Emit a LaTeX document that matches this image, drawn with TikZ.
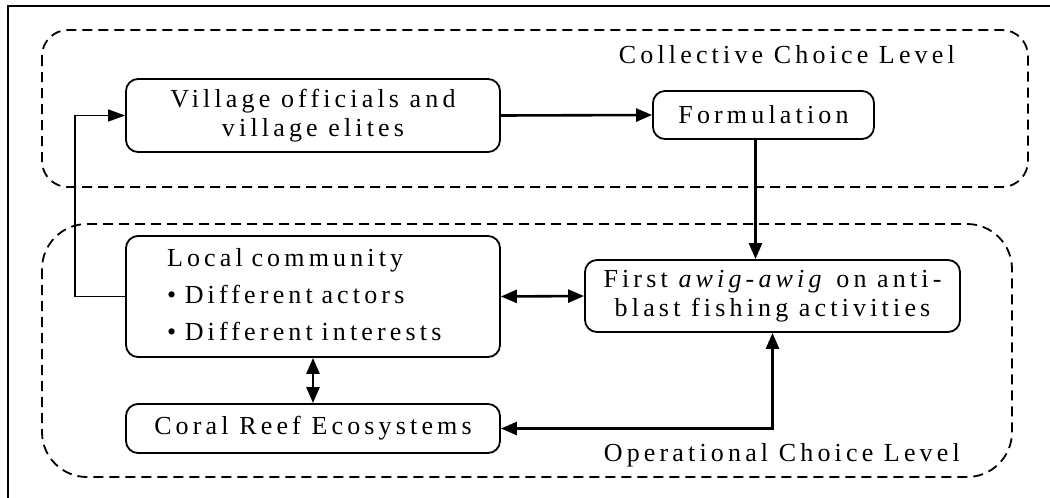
\documentclass[tikz,border=0pt]{standalone}
\usepackage{fontspec}
\setmainfont[LetterSpace=16]{Liberation Serif}
\usetikzlibrary{arrows.meta}

\tikzset{
  box/.style={draw, line width=1.8pt, rounded corners=12pt, align=center,
    inner sep=0pt, font=\fontsize{26}{29}\selectfont},
  level/.style={draw, line width=1.8pt, dash pattern=on 10pt off 6pt},
  lbl/.style={inner sep=0pt, font=\fontsize{26}{29}\selectfont},
  flow/.style={line width=2.6pt, -{Triangle[length=16pt,width=13pt]}},
  both/.style={line width=2.6pt, {Triangle[length=16pt,width=13pt]}-{Triangle[length=16pt,width=13pt]}},
  feed/.style={line width=1.5pt, -{Triangle[length=17pt,width=12pt]}},
}

\begin{document}
\begin{tikzpicture}[x=1pt,y=-1pt]
\useasboundingbox (0,0) rectangle (1050,498);

% page frame (open at right and bottom)
\draw[line width=1.5pt] (8,498) -- (8,6) -- (1050,6);

% the two choice levels
\draw[level, rounded corners=26pt] (42,30) rectangle (1028,187);
\draw[level, rounded corners=45pt] (42,224) rectangle (1012,477);
\node[lbl, anchor=base east] (collective) at (955,63) {Collective Choice Level};
\node[lbl, anchor=base east] (operational) at (960,461) {Operational Choice Level};

% actors and rules
\node[box, minimum width=374pt, minimum height=73pt] (village) at (313,115.5)
  {Village officials and\\village elites};
\node[box, minimum width=221pt, minimum height=48pt] (formulation) at (763.5,115)
  {Formulation};
\node[box, minimum width=375pt, minimum height=72pt] (first) at (772.5,296)
  {First \textit{awig-awig} on anti-\\blast fishing activities};
\node[box, minimum width=374pt, minimum height=121pt, text width=292pt,
  inner xsep=41pt, align=left, font=\fontsize{26}{37}\selectfont] (local) at (313,296.5)
  {\begin{tabular}{@{}l@{}}Local community\\• Different actors\\• Different interests\end{tabular}};
\node[box, minimum width=374pt, minimum height=49pt] (coral) at (313,428.5)
  {Coral Reef Ecosystems};

% connectors
\draw[flow] (village.east) -- (formulation.west);
\draw[flow] ([xshift=-8pt]formulation.south) -- ([xshift=-8pt]formulation.south |- first.north);
\draw[both] (local.east) -- (first.west);
\draw[both] (local.south) -- (coral.north);
\draw[both] (coral.east) -| (first.south);
\draw[feed] (local.west) -- ++(-50,0) |- (village.west);
\end{tikzpicture}
\end{document}
